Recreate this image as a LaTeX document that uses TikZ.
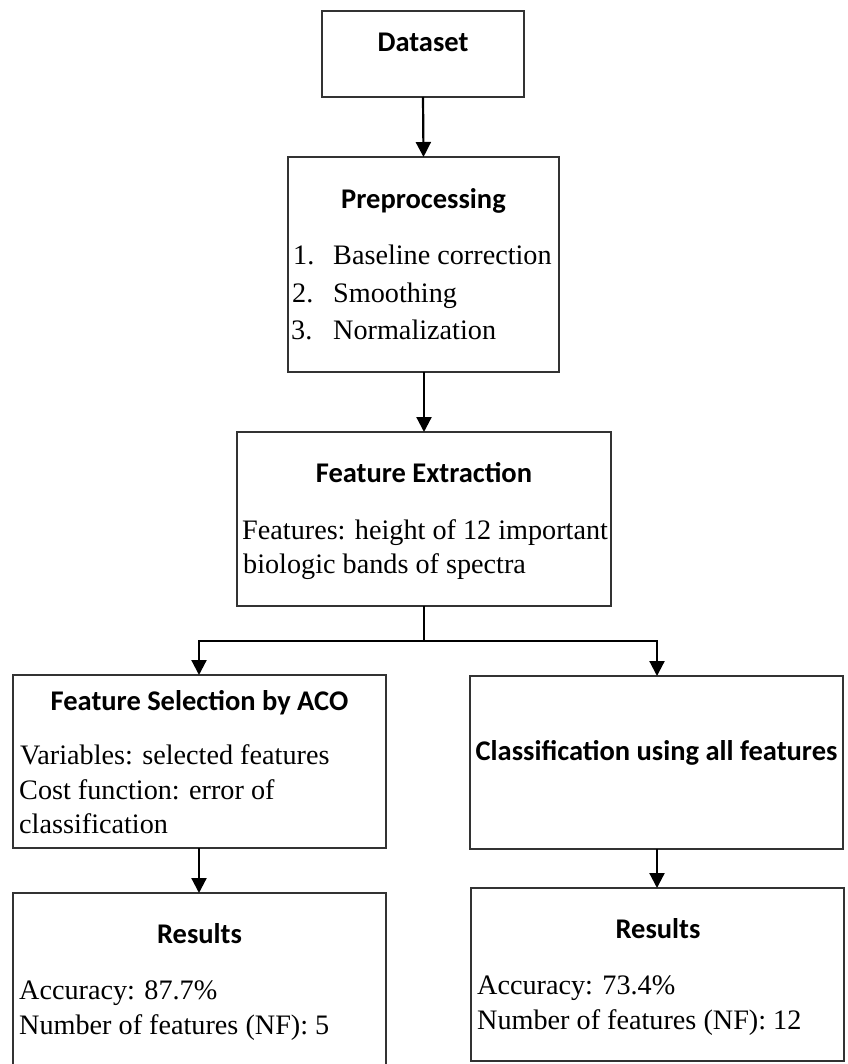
\documentclass[tikz,border=0pt]{standalone}
\usepackage{fontspec}
\setmainfont{Liberation Serif}
\newfontfamily\ttlfont{Carlito}
\usetikzlibrary{arrows.meta}
\begin{document}
\begin{tikzpicture}[x=1pt,y=-1pt,
  box/.style={draw=black!80, line width=1.3pt, inner sep=0pt, outer sep=0pt},
  ttl/.style={font=\ttlfont\bfseries\fontsize{28.5}{34}\selectfont, inner sep=0pt, anchor=base},
  txt/.style={font=\fontsize{28.2}{34}\selectfont, inner sep=0pt, anchor=base west},
  arr/.style={line width=2.2pt, -{Triangle[length=15pt,width=15pt]}},
  ln/.style={line width=2.2pt}]
\useasboundingbox (0,0) rectangle (847,1064);

% boxes
\node[box, minimum width=202pt, minimum height=86pt] (ds) at (423,54) {};
\node[box, minimum width=271pt, minimum height=215pt] (pre) at (423.5,264.5) {};
\node[box, minimum width=374pt, minimum height=174pt] (fe) at (424,519) {};
\node[box, minimum width=373pt, minimum height=173pt] (fs) at (199.5,761.5) {};
\node[box, minimum width=373pt, minimum height=173pt] (cl) at (656.5,762.5) {};
\node[box, minimum width=373pt, minimum height=180pt] (r1) at (199.5,983) {};
\node[box, minimum width=373pt, minimum height=173pt] (r2) at (657.5,974.5) {};

% texts
\node[ttl] (dsT) at (423,52) {Dataset};

\node[ttl] (preT) at (423.5,209) {Preprocessing};
\node[txt] (p1) at (293,265) {1.};
\node[txt] (p1b) at (333,265) {Baseline correction};
\node[txt] (p2) at (292,302) {2.};
\node[txt] (p2b) at (333,302) {Smoothing};
\node[txt] (p3) at (291,339) {3.};
\node[txt] (p3b) at (333,339) {Normalization};

\node[ttl] (feT) at (424,482) {Feature Extraction};
\node[txt] (fe1) at (242,539) {Features: height of 12 important};
\node[txt] (fe2) at (243,573) {biologic bands of spectra};

\node[ttl] (fsT) at (199.5,710) {Feature Selection by ACO};
\node[txt] (fs1) at (20,764) {Variables: selected features};
\node[txt] (fs2) at (19,799) {Cost function: error of};
\node[txt] (fs3) at (19,833) {classification};

\node[ttl] (clT) at (656.5,760) {Classification using all features};

\node[ttl] (r1T) at (199.5,943) {Results};
\node[txt] (r1a) at (19,999) {Accuracy: 87.7\%};
\node[txt] (r1b) at (19,1034) {Number of features (NF): 5};

\node[ttl] (r2T) at (658,938) {Results};
\node[txt] (r2a) at (477,994) {Accuracy: 73.4\%};
\node[txt] (r2b) at (477,1029) {Number of features (NF): 12};

% connectors
\coordinate (sp) at (424,641);
\coordinate (spL) at (199,641);
\coordinate (spR) at (657,641);
\draw[arr] (ds.south) -- (pre.north);
\draw[arr] (pre.south -| fe.north) -- (fe.north);
\draw[ln] (fe.south) -- (sp);
\draw[ln, line cap=rect] (spL) -- (spR);
\draw[arr] (spL) -- (spL |- fs.north);
\draw[arr] (spR) -- (spR |- cl.north);
\draw[arr] (fs.south -| spL) -- (spL |- r1.north);
\draw[arr] (cl.south -| spR) -- (spR |- r2.north);
\end{tikzpicture}
\end{document}
